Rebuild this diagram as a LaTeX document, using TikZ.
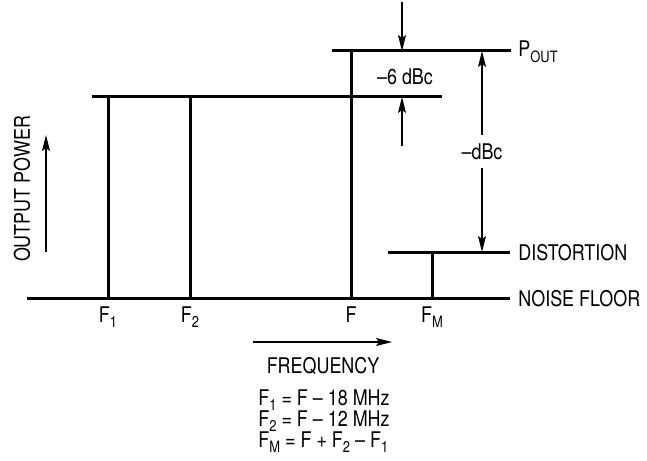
\documentclass[tikz,border=0pt]{standalone}
\usepackage{fontspec}
\setmainfont[FakeStretch=0.83]{TeX Gyre Heros}
\usetikzlibrary{arrows.meta}
\newcommand\lowsub[1]{\raisebox{-0.5ex}{\fontsize{7.8}{7.8}\selectfont#1}}

\begin{document}
\begin{tikzpicture}[x=0.5pt,y=-0.5pt,
	line/.style={line width=1.5pt},
	dim/.style={line width=0.6pt,-{Stealth[length=8pt,width=4pt,inset=1.5pt]}},
	dimboth/.style={line width=0.6pt,{Stealth[length=8pt,width=4pt,inset=1.5pt]}-{Stealth[length=8pt,width=4pt,inset=1.5pt]}},
	lbl/.style={inner sep=0pt,font=\fontsize{10.8}{10.5}\selectfont}]
	\useasboundingbox (0,0) rectangle (647,460);
	% levels
	\coordinate (floorL) at (27,298);   \coordinate (floorR) at (510,298);
	\coordinate (toneL) at (92,97);     \coordinate (toneR) at (442,97);
	\coordinate (poutL) at (332,51);    \coordinate (poutR) at (511,51);
	\coordinate (distL) at (388,252);   \coordinate (distR) at (510,252);
	\draw[line] (floorL) -- (floorR);
	\draw[line] (toneL) -- (toneR);
	\draw[line] (poutL) -- (poutR);
	\draw[line] (distL) -- (distR);
	% carriers
	\draw[line] (108,298) coordinate (f1) -- (108,97);
	\draw[line] (190,298) coordinate (f2) -- (190,97);
	\draw[line] (351,298) coordinate (f) -- (351,51);
	\draw[line] (432,298) coordinate (fm) -- (432,252);
	% -6 dBc arrows
	\coordinate (topA) at (402,2);   \coordinate (topB) at (402,51);
	\coordinate (botA) at (402,146); \coordinate (botB) at (402,97);
	\draw[dim] (topA) -- (topB);
	\draw[dim] (botA) -- (botB);
	\node[lbl] (six) at (405,77) {–6 dBc};
	% -dBc
	\coordinate (dbcT) at (482,51); \coordinate (dbcB) at (482,252);
	\draw[dimboth] (dbcT) -- node[lbl,fill=white,inner ysep=4pt] (dbc) {–dBc} (dbcB);
	% right labels
	\node[lbl,anchor=west] (pout) at (518,52) {P\lowsub{OUT}};
	\node[lbl,anchor=west] (dist) at (518,253) {DISTORTION};
	\node[lbl,anchor=west] (noise) at (518,299) {NOISE FLOOR};
	% frequency labels
	\node[lbl,anchor=base] (lf1) at (108,322) {F\lowsub{1}};
	\node[lbl,anchor=base] (lf2) at (190,322) {F\lowsub{2}};
	\node[lbl,anchor=base] (lf) at (351,322) {F};
	\node[lbl,anchor=base] (lfm) at (432,322) {F\lowsub{M}};
	% axes
	\node[lbl,rotate=90] (power) at (22,189) {OUTPUT POWER};
	\coordinate (upA) at (46,252);  \coordinate (upB) at (46,135);
	\draw[dim] (upA) -- (upB);
	\coordinate (rtA) at (253,342); \coordinate (rtB) at (392,342);
	\draw[dim] (rtA) -- (rtB);
	\node[lbl,anchor=base] (freq) at (323,373) {FREQUENCY};
	\node[lbl,anchor=base west] (eqA) at (258,405) {F\lowsub{1} = F – 18 MHz};
	\node[lbl,anchor=base west] (eqB) at (258,426) {F\lowsub{2} = F – 12 MHz};
	\node[lbl,anchor=base west] (eqC) at (258,447) {F\lowsub{M} = F + F\lowsub{2} – F\lowsub{1}};
\end{tikzpicture}
\end{document}
